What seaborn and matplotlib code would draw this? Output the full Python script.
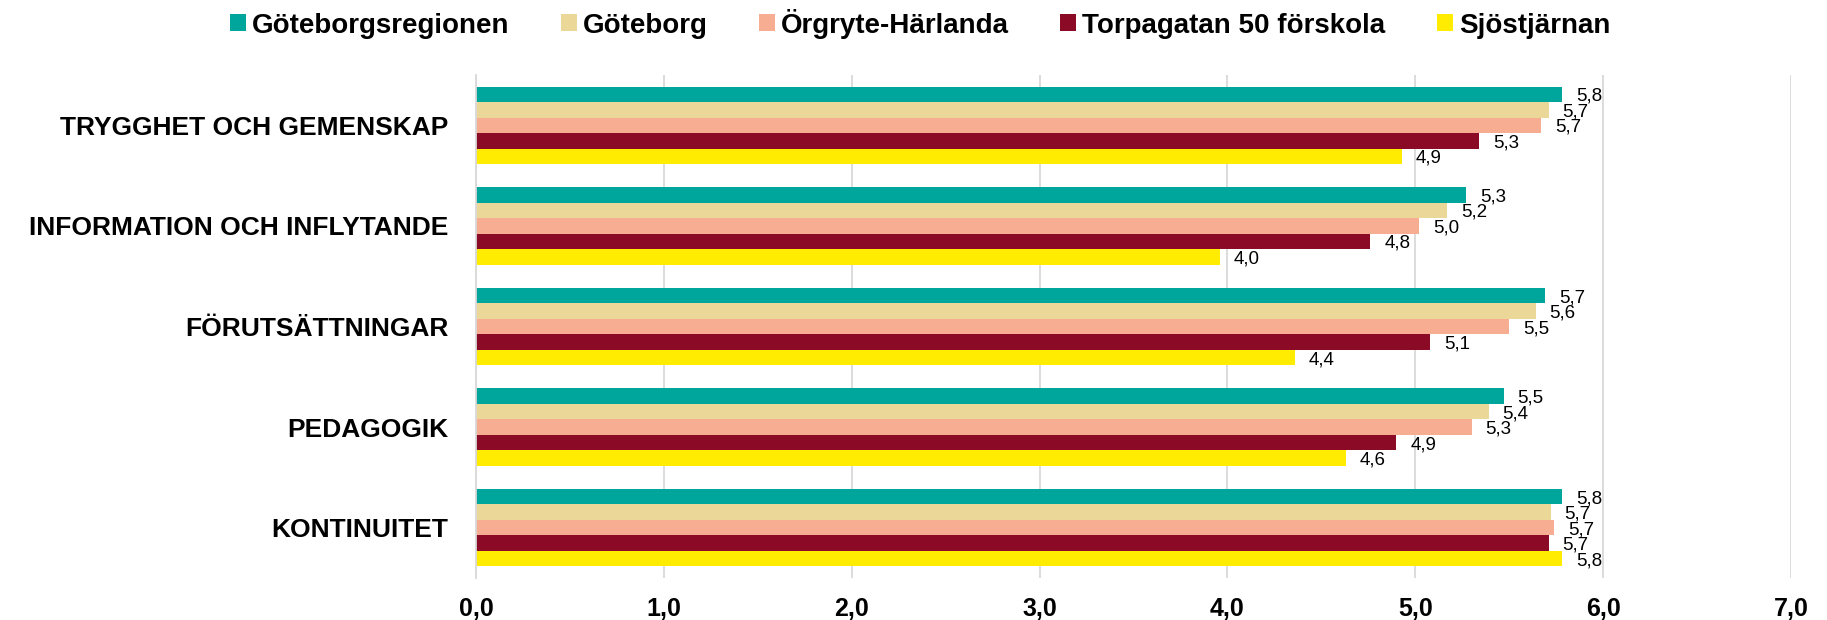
import pandas as pd
import numpy as np
import matplotlib.pyplot as plt
import seaborn as sns

# categories (top to bottom) and series
categories = ["TRYGGHET OCH GEMENSKAP", "INFORMATION OCH INFLYTANDE", "FÖRUTSÄTTNINGAR",
              "PEDAGOGIK", "KONTINUITET"]
series = ["Göteborgsregionen", "Göteborg", "Örgryte-Härlanda", "Torpagatan 50 förskola", "Sjöstjärnan"]

goteborgsregionen = [5.78, 5.27, 5.69, 5.47, 5.78]
goteborg = [5.71, 5.17, 5.64, 5.39, 5.72]
orgryte_harlanda = [5.67, 5.02, 5.50, 5.30, 5.74]
torpagatan = [5.34, 4.76, 5.08, 4.90, 5.71]
sjostjarnan = [4.93, 3.96, 4.36, 4.63, 5.78]

x_ticks = [0, 1, 2, 3, 4, 5, 6, 7]

colors = ["#00A59B", "#EBD898", "#F7AD91", "#8B0A25", "#FFEC00"]

values = [goteborgsregionen, goteborg, orgryte_harlanda, torpagatan, sjostjarnan]
df = pd.DataFrame({
    "kategori": np.tile(categories, len(series)),
    "serie": np.repeat(series, len(categories)),
    "varde": np.concatenate(values),
})

sns.set_style("white")
plt.rcParams['font.family'] = ['Liberation Sans', 'DejaVu Sans']
plt.rcParams['text.color'] = 'black'
plt.rcParams['xtick.labelcolor'] = 'black'
plt.rcParams['ytick.labelcolor'] = 'black'

fig = plt.figure(figsize=(18.27, 6.2), dpi=100)
ax = fig.add_axes([0.2605, 0.0677, 0.7198, 0.8113])

sns.barplot(data=df, y="kategori", x="varde", hue="serie", order=categories, hue_order=series,
            palette=colors, saturation=1, width=0.77, linewidth=0, orient="h", ax=ax,
            errorbar=None)

# value labels with decimal comma
for cont in ax.containers:
    for bar in cont:
        v = bar.get_width()
        ax.annotate(f"{v:.1f}".replace(".", ","), (v, bar.get_y() + bar.get_height() / 2),
                    xytext=(14, -2), textcoords="offset pixels", va="center", ha="left",
                    fontsize=13.5, color="black")

ax.set_xlim(0, 7)
ax.set_ylim(4.5, -0.5)
ax.set_xticks(x_ticks)
ax.set_xticklabels([f"{t:.1f}".replace(".", ",") for t in x_ticks], fontsize=18, fontweight="bold")
ax.set_yticklabels(categories, fontsize=19, fontweight="bold")
ax.set_xlabel("")
ax.set_ylabel("")

ax.set_axisbelow(True)
ax.grid(axis="x", color="#D9D9D9", linewidth=1.3)
ax.grid(axis="y", visible=False)
for s in ["top", "right", "bottom"]:
    ax.spines[s].set_visible(False)
ax.spines["left"].set_color("#D9D9D9")
ax.spines["left"].set_linewidth(1.3)

ax.tick_params(axis="y", which="major", length=0, pad=20)
ax.tick_params(axis="x", which="major", length=0, pad=14)
ax.set_yticks(np.arange(-0.5, 5.0, 1.0), minor=True)
ax.tick_params(axis="y", which="minor", length=6, color="#D9D9D9", width=1.3)

handles, labels = ax.get_legend_handles_labels()
ax.get_legend().remove()
fig.legend(handles, labels, loc="center", bbox_to_anchor=(0.5036, 0.962), ncol=5, frameon=False,
           prop={"size": 20, "weight": "bold"}, handlelength=0.57, handleheight=0.57,
           handletextpad=0.22, columnspacing=1.85)

plt.savefig("out.png", dpi=100)
